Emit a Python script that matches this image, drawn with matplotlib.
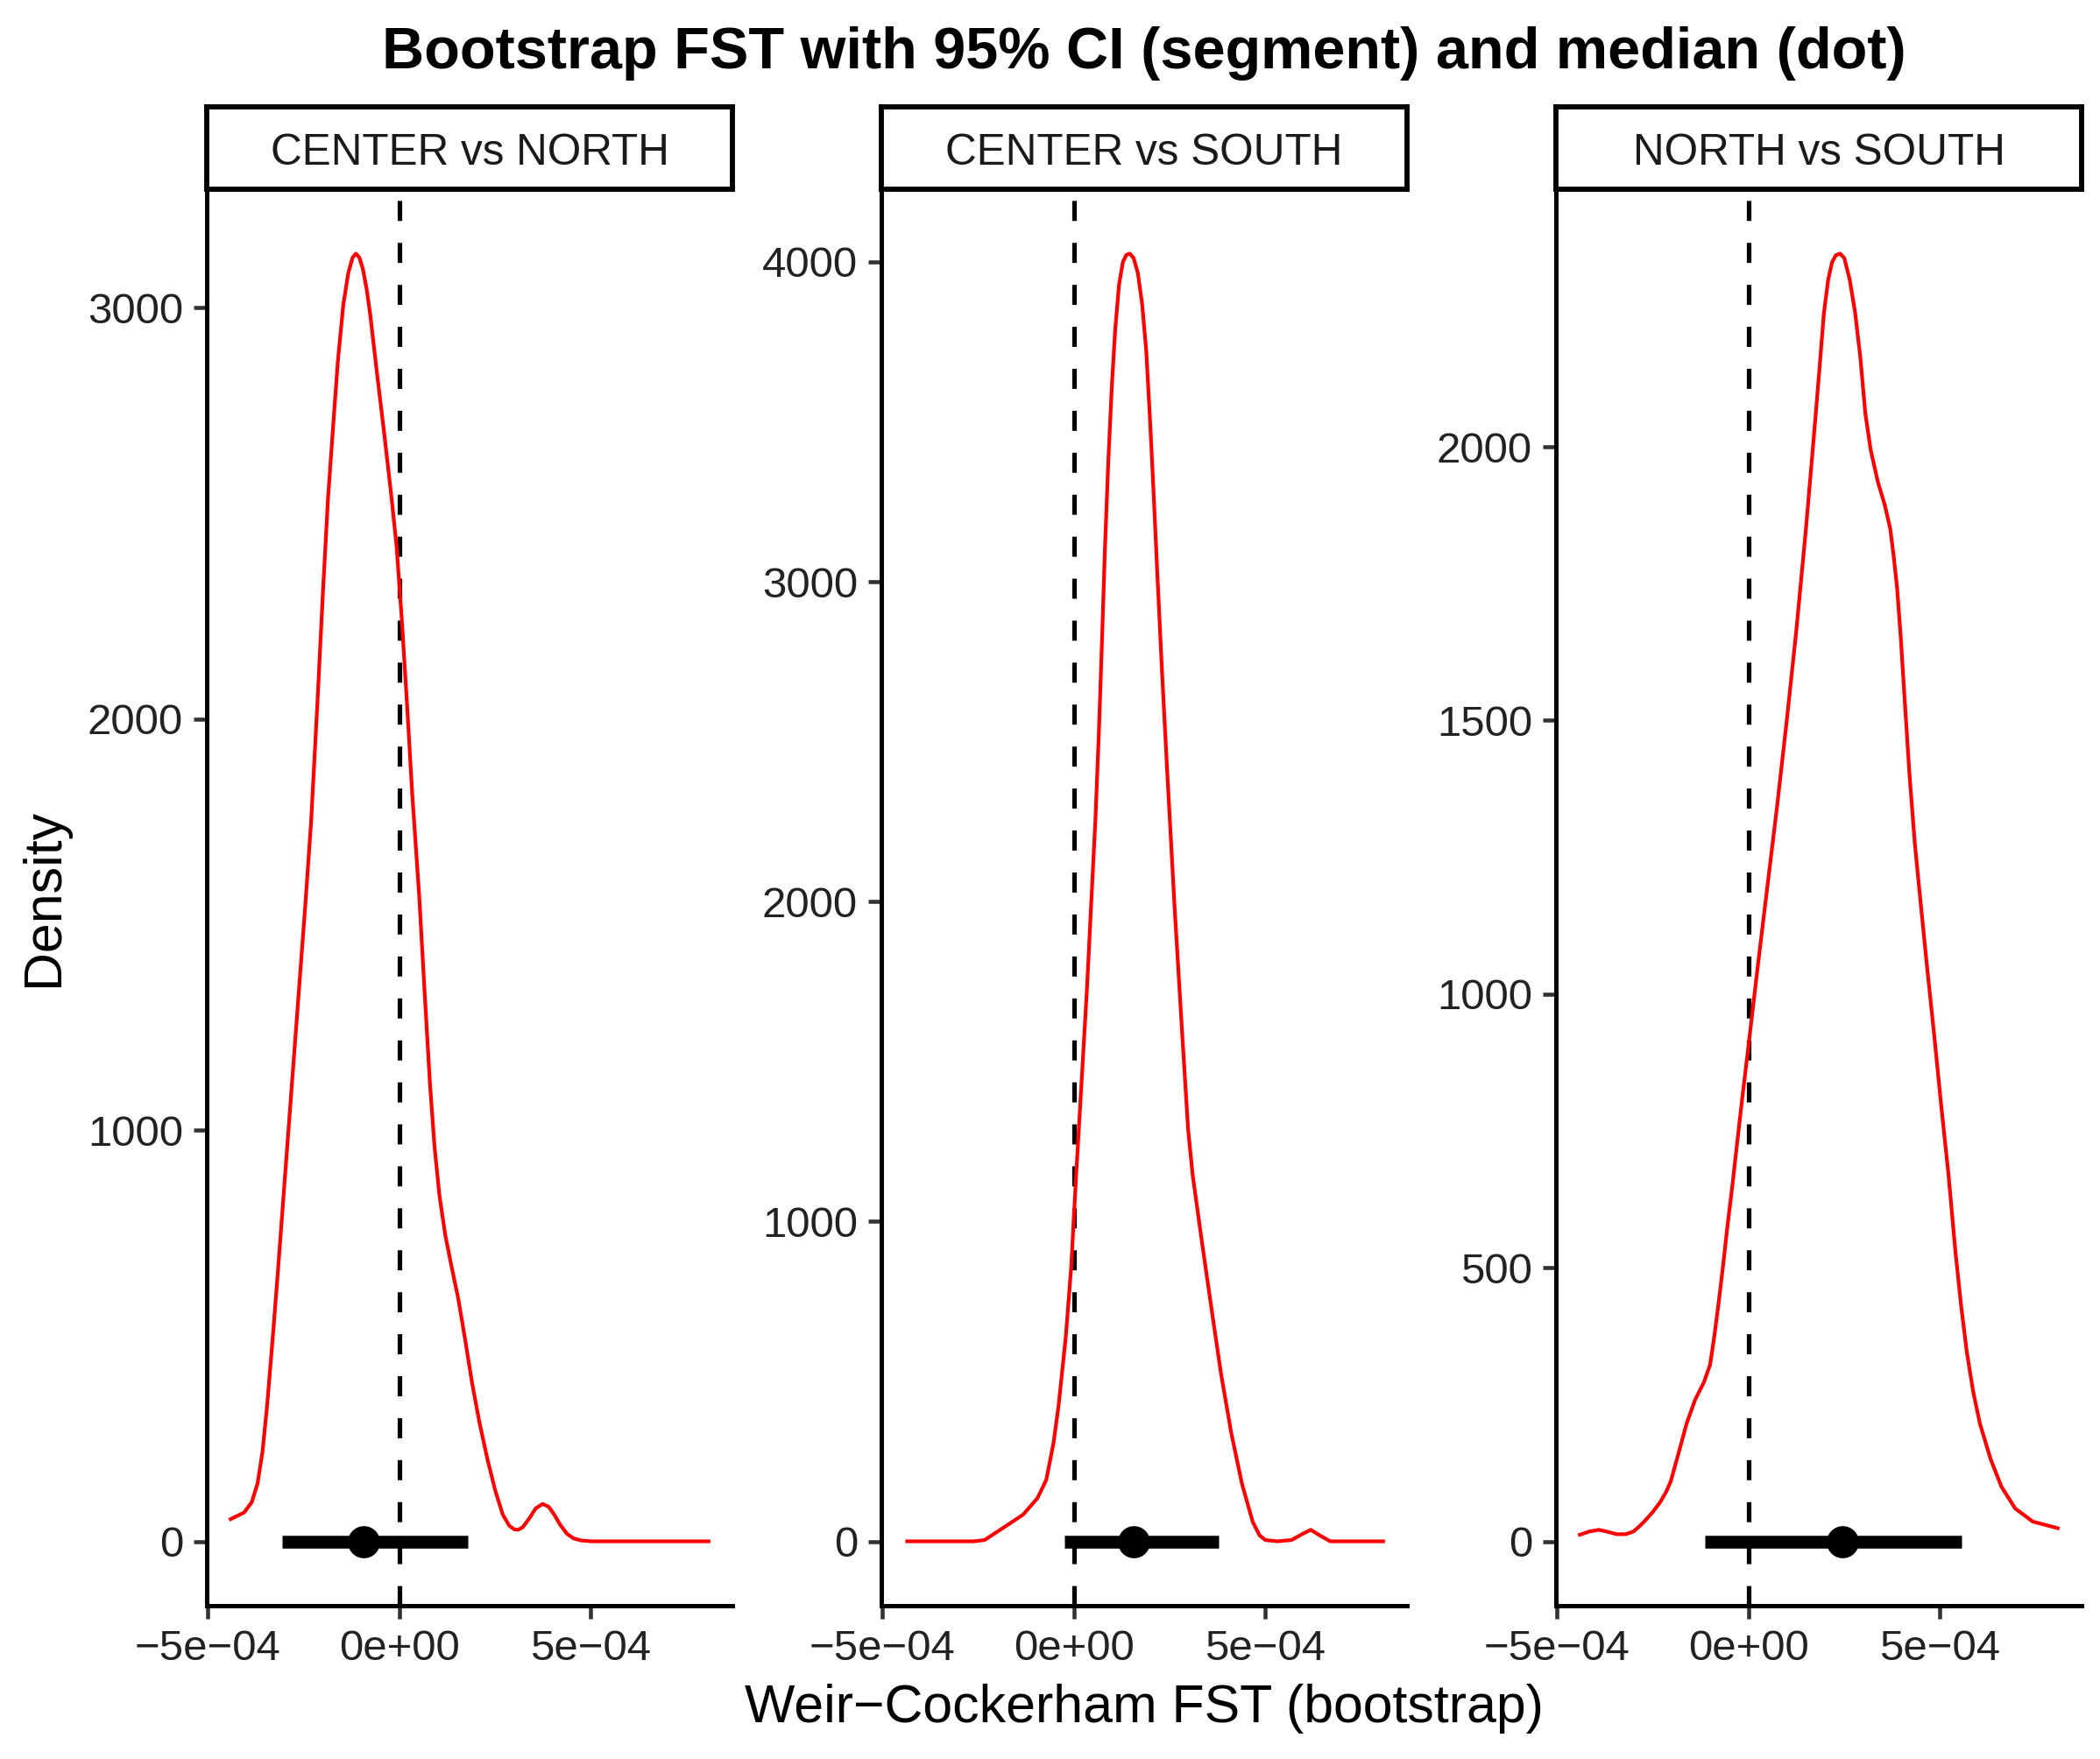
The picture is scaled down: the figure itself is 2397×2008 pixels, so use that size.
import numpy as np
import matplotlib
matplotlib.use('Agg')
import matplotlib.pyplot as plt

plt.rcParams['font.family'] = ['Liberation Sans', 'DejaVu Sans']

# facet labels
pairs = ["CENTER vs NORTH", "CENTER vs SOUTH", "NORTH vs SOUTH"]

# density curves (x in units of 1e-4)
cn_x = [-4.40, -4.05, -3.85, -3.70, -3.57, -3.45, -3.30, -3.16, -2.98, -2.80, -2.62, -2.44,
        -2.30, -2.14, -1.99, -1.86, -1.74, -1.60, -1.46, -1.33, -1.22, -1.13, -1.04, -0.95,
        -0.85, -0.76, -0.58, -0.40, -0.21, -0.07, 0.06, 0.20, 0.34, 0.52, 0.66, 0.80, 0.92,
        1.05, 1.20, 1.36, 1.54, 1.72, 1.90, 2.09, 2.30, 2.50, 2.70, 2.87, 3.00, 3.10, 3.22,
        3.38, 3.56, 3.74, 3.90, 4.05, 4.20, 4.38, 4.55, 4.75, 5.03, 6.00, 7.00, 8.07]
cn_y = [54, 70, 95, 140, 217, 329, 497, 665, 890, 1114, 1338, 1563,
        1751, 2032, 2312, 2536, 2694, 2873, 3008, 3085, 3122, 3132, 3122, 3095,
        3045, 2985, 2840, 2700, 2545, 2420, 2250, 2040, 1815, 1570, 1338, 1114, 960,
        840, 745, 670, 590, 490, 385, 290, 200, 125, 65, 38, 29, 28, 34,
        54, 80, 91, 84, 64, 40, 18, 7, 2, 0, 0, 0, 0]

cs_x = [-4.35, -2.60, -2.33, -2.05, -1.68, -1.32, -0.95, -0.72, -0.53, -0.40, -0.21, -0.07,
        0.06, 0.20, 0.34, 0.46, 0.56, 0.65, 0.73, 0.81, 0.90, 0.99, 1.08, 1.18, 1.28, 1.37,
        1.46, 1.56, 1.67, 1.78, 1.89, 1.99, 2.08, 2.18, 2.30, 2.43, 2.53, 2.62, 2.80, 2.98,
        3.10, 3.35, 3.61, 3.84, 4.11, 4.39, 4.67, 4.85, 5.00, 5.31, 5.68, 5.95, 6.18, 6.41,
        6.69, 7.40, 8.07]
cs_y = [0, 0, 4, 26, 55, 84, 135, 192, 308, 423, 640, 857,
        1145, 1434, 1723, 2012, 2250, 2520, 2800, 3100, 3380, 3610, 3790, 3930, 4000, 4022,
        4026, 4012, 3965, 3870, 3720, 3500, 3280, 3020, 2720, 2420, 2200, 2000, 1640, 1290,
        1145, 929, 712, 524, 337, 178, 60, 18, 4, 0, 4, 22, 36, 19,
        0, 0, 0]

ns_x = [-4.40, -4.15, -3.90, -3.65, -3.44, -3.20, -3.00, -2.85, -2.68, -2.48, -2.30, -2.15,
        -2.03, -1.84, -1.61, -1.39, -1.16, -1.00, -0.89, -0.78, -0.66, -0.55, -0.42, -0.30,
        -0.17, 0.00, 0.25, 0.50, 0.75, 1.00, 1.25, 1.50, 1.72, 1.85, 1.97, 2.08, 2.18, 2.28,
        2.39, 2.50, 2.64, 2.78, 2.92, 3.05, 3.19, 3.38, 3.56, 3.70, 3.79, 3.88, 3.97, 4.07,
        4.20, 4.34, 4.48, 4.66, 4.85, 5.03, 5.22, 5.40, 5.55, 5.70, 5.86, 6.04, 6.32, 6.60,
        6.96, 7.42, 8.07]
ns_y = [12, 18, 21, 17, 13, 13, 18, 27, 39, 55, 72, 90,
        109, 157, 216, 259, 291, 323, 375, 435, 505, 575, 650, 725,
        805, 905, 1055, 1200, 1345, 1500, 1665, 1850, 2030, 2140, 2245, 2305, 2337, 2350,
        2353, 2345, 2306, 2247, 2163, 2061, 1994, 1935, 1893, 1850, 1800, 1741, 1656, 1545,
        1403, 1276, 1176, 1050, 923, 796, 670, 530, 430, 345, 275, 215, 150, 100,
        60, 36, 24]

curves_x = [cn_x, cs_x, ns_x]
curves_y = [cn_y, cs_y, ns_y]

# 95% CI and median (x in units of 1e-4)
ci_low = [-3.06, -0.24, -1.13]
ci_high = [1.80, 3.78, 5.57]
medians = [-0.93, 1.56, 2.45]

y_ticks = [[0, 1000, 2000, 3000], [0, 1000, 2000, 3000, 4000], [0, 500, 1000, 1500, 2000]]
x_ticks = [-5e-4, 0, 5e-4]
x_ticklabels = ["\u22125e\u221204", "0e+00", "5e\u221204"]

W, H = 2397, 2008
fig = plt.figure(figsize=(W / 300, H / 300), dpi=300)

panel_left = [236, 1006, 1776]
panel_w = 600
panel_top, panel_bot = 216, 1833
strip_top = 122

all_x = np.concatenate([np.array(c) for c in curves_x] + [np.array(ci_low), np.array(ci_high)]) * 1e-4
xmin, xmax = all_x.min(), all_x.max()
xpad = 0.05 * (xmax - xmin)

for i in range(3):
    x0 = panel_left[i] / W
    ax = fig.add_axes([x0, 1 - panel_bot / H, panel_w / W, (panel_bot - panel_top) / H])
    xs = np.array(curves_x[i]) * 1e-4
    ys = np.array(curves_y[i])
    ax.axvline(0, color='black', lw=1.25, ls=(0, (4.4, 4.8)), zorder=1)
    ax.plot(xs, ys, color='#FF0000', lw=1.0, zorder=2, solid_joinstyle='round')
    ax.plot([ci_low[i] * 1e-4, ci_high[i] * 1e-4], [0, 0], color='black', lw=3.5,
            solid_capstyle='butt', zorder=3)
    ax.plot([medians[i] * 1e-4], [0], 'o', color='black', ms=7.8, zorder=4)

    ymax = ys.max()
    ax.set_ylim(-0.05 * ymax, 1.05 * ymax)
    ax.set_xlim(xmin - xpad, xmax + xpad)
    ax.set_yticks(y_ticks[i])
    ax.set_yticklabels([str(t) for t in y_ticks[i]])
    ax.set_xticks(x_ticks)
    ax.set_xticklabels(x_ticklabels)

    for s in ['top', 'right']:
        ax.spines[s].set_visible(False)
    for s in ['left', 'bottom']:
        ax.spines[s].set_linewidth(1.2)
    ax.tick_params(axis='both', direction='out', length=3.5, width=1.1, color='#333333',
                   labelsize=11.8, labelcolor='#222222', pad=3)

    # strip
    sx = fig.add_axes([x0, 1 - panel_top / H, panel_w / W, (panel_top - strip_top) / H])
    sx.set_xticks([])
    sx.set_yticks([])
    for s in sx.spines.values():
        s.set_linewidth(1.4)
    sx.text(0.5, (panel_top - 188) / (panel_top - strip_top), pairs[i], ha='center',
            va='baseline', fontsize=11.9, color='#1A1A1A', transform=sx.transAxes)

fig.text(1306 / W, 1 - 78 / H, "Bootstrap FST with 95% CI (segment) and median (dot)",
         ha='center', va='baseline', fontsize=16, fontweight='bold')
fig.text(1306 / W, 1 - 1966 / H, "Weir\u2212Cockerham FST (bootstrap)",
         ha='center', va='baseline', fontsize=14.6)
fig.text(50 / W, 1 - 1025 / H, "Density", rotation=90, ha='center', va='center', fontsize=14.6)

fig.savefig('out.png', dpi=300)
